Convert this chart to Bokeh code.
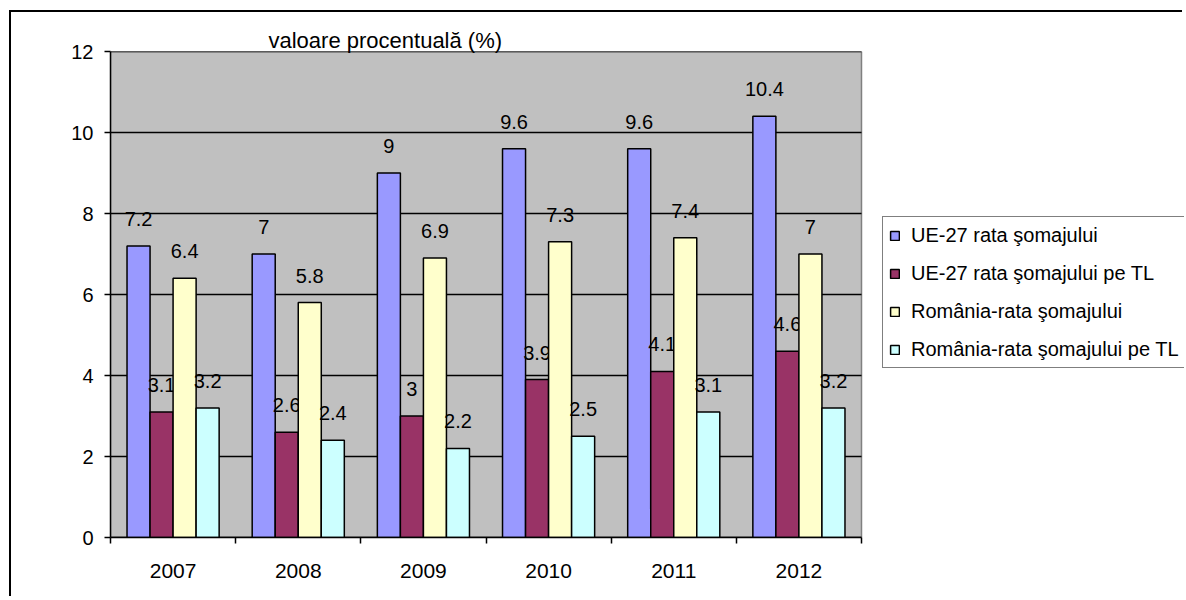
from bokeh.plotting import figure
from bokeh.models import Range1d, FixedTicker, ColumnDataSource, Legend, LegendItem
from bokeh.core.properties import value
from bokeh.embed import file_html
from bokeh.resources import INLINE

years = ["2007", "2008", "2009", "2010", "2011", "2012"]
series_names = [
    "UE-27 rata şomajului",
    "UE-27 rata şomajului pe TL",
    "România-rata şomajului",
    "România-rata şomajului pe TL",
]
ue_rata = [7.2, 7, 9, 9.6, 9.6, 10.4]
ue_tl = [3.1, 2.6, 3, 3.9, 4.1, 4.6]
ro_rata = [6.4, 5.8, 6.9, 7.3, 7.4, 7]
ro_tl = [3.2, 2.4, 2.2, 2.5, 3.1, 3.2]
y_ticks = [0, 2, 4, 6, 8, 10, 12]
y_title = "valoare procentuală (%)"

series = [ue_rata, ue_tl, ro_rata, ro_tl]
colors = ["#9999FF", "#993366", "#FFFFCC", "#CCFFFF"]
FONT = "Liberation Sans"

# layout (pixels)
FIG_W, FIG_H = 1173, 586
FRAME_LEFT, FRAME_TOP, FRAME_BOTTOM = 99, 39, 61
PLOT_AREA_W = 751  # pixel width of the grey plot area
frame_w = FIG_W - FRAME_LEFT
ncat = len(years)
x_max = ncat * frame_w / PLOT_AREA_W

p = figure(
    width=FIG_W, height=FIG_H, output_backend="svg", toolbar_location=None,
    x_range=Range1d(0, x_max), y_range=Range1d(0, max(y_ticks)),
    min_border_left=FRAME_LEFT, min_border_top=FRAME_TOP, min_border_right=0,
    min_border_bottom=FRAME_BOTTOM,
    background_fill_color="white", border_fill_color="white",
)
p.margin = (12, 0, 0, 11)
p.styles = {"box-shadow": "-2px -2px 0px 0px black"}
p.outline_line_color = None

p.title.text = y_title
p.title.align = "left"
p.title.offset = 158
p.title.text_font = FONT
p.title.text_font_size = "22px"
p.title.text_font_style = "normal"
p.title.text_color = "black"
p.title.standoff = -2

# grey plot area with grey top/right border
p.quad(left=[0], right=[ncat], bottom=[0], top=[max(y_ticks)],
       fill_color="#C0C0C0", line_color="#808080", line_width=1.5)
# horizontal gridlines limited to the plot area
p.segment(x0=[0] * len(y_ticks), x1=[ncat] * len(y_ticks), y0=y_ticks, y1=y_ticks,
          line_color="black", line_width=1.5)

n = len(series)
bw = 0.184
items = []
for k, (vals, name, col) in enumerate(zip(series, series_names, colors)):
    off = (k - (n - 1) / 2) * bw
    xs = [i + 0.5 + off for i in range(ncat)]
    src = ColumnDataSource(dict(x=xs, top=vals, lbl=[f"{v:g}" for v in vals]))
    r = p.vbar(x="x", top="top", width=bw, source=src, fill_color=col,
               line_color="black", line_width=1.5)
    items.append(LegendItem(label=name, renderers=[r]))
    p.text(x="x", y="top", text="lbl", source=src, text_align="center",
           text_baseline="alphabetic", y_offset=-27,
           text_font=value(FONT), text_font_size="20px", text_color="black")

# y axis
p.yaxis.ticker = FixedTicker(ticks=y_ticks)
p.yaxis.axis_line_color = "black"
p.yaxis.axis_line_width = 1.5
p.yaxis.major_tick_line_color = "black"
p.yaxis.major_tick_line_width = 1.5
p.yaxis.major_tick_out = 6
p.yaxis.major_tick_in = 0
p.yaxis.minor_tick_line_color = None
p.yaxis.major_label_standoff = 11
p.yaxis.major_label_text_font = FONT
p.yaxis.major_label_text_font_size = "20px"
p.yaxis.major_label_text_color = "black"

# x axis
centers = [i + 0.5 for i in range(ncat)]
bounds = list(range(ncat + 1))
p.xaxis.bounds = (0, ncat)
p.xaxis.ticker = FixedTicker(ticks=centers, minor_ticks=bounds)
p.xaxis.major_label_overrides = {c: y for c, y in zip(centers, years)}
p.xaxis.axis_line_color = "black"
p.xaxis.axis_line_width = 1.5
p.xaxis.major_tick_line_color = None
p.xaxis.major_tick_out = 0
p.xaxis.major_tick_in = 0
p.xaxis.minor_tick_line_color = "black"
p.xaxis.minor_tick_line_width = 1.5
p.xaxis.minor_tick_out = 6
p.xaxis.minor_tick_in = 0
p.xaxis.major_label_standoff = 20
p.xaxis.major_label_text_font = FONT
p.xaxis.major_label_text_font_size = "21px"
p.xaxis.major_label_text_color = "black"

p.xgrid.grid_line_color = None
p.ygrid.grid_line_color = None

# legend
lg = Legend(items=items)
lg.location = (772, 169)
lg.label_text_font = FONT
lg.label_text_font_size = "20px"
lg.label_text_color = "black"
lg.glyph_width = 11
lg.glyph_height = 11
lg.label_height = 24
lg.label_standoff = 11
lg.spacing = 14
lg.padding = 6
lg.margin = 0
lg.border_line_color = "black"
lg.border_line_width = 1.5
lg.background_fill_color = "white"
lg.background_fill_alpha = 1
p.add_layout(lg, "center")

open("out.html", "w").write(file_html(p, INLINE))
